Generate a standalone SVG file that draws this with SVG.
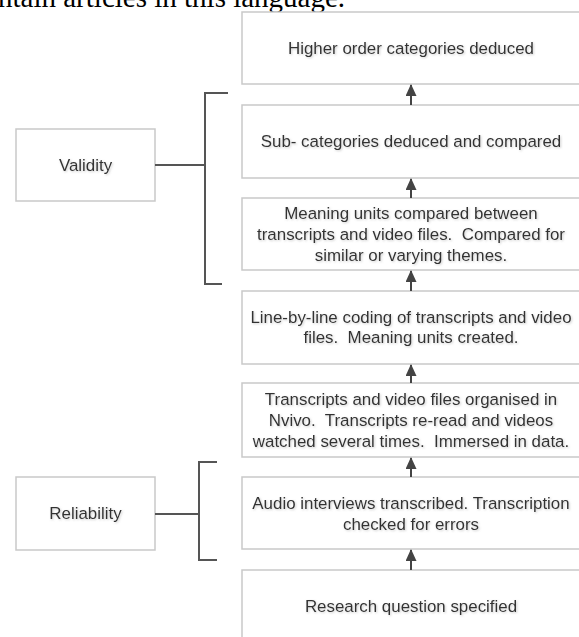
<svg xmlns="http://www.w3.org/2000/svg" width="579" height="637" viewBox="0 0 579 637">
<style>
.box{fill:#fff;stroke:#c9c9c9;stroke-width:1.5}
.t{font-family:"Liberation Sans",Arial,sans-serif;font-size:16.9px;fill:#333;text-anchor:middle;white-space:pre;filter:url(#sh)}
.br{fill:none;stroke:#555;stroke-width:2}
.ar{stroke:#444;stroke-width:2}
</style>
<defs>
<filter id="sh" x="-5%" y="-20%" width="110%" height="140%">
<feDropShadow dx="1" dy="1" stdDeviation="0.8" flood-color="#999" flood-opacity="0.5"/>
</filter>
<marker id="ah" markerWidth="12" markerHeight="11" refX="11" refY="5.5" orient="auto" markerUnits="userSpaceOnUse" viewBox="0 0 12 11">
<path d="M0 0 L12 5.5 L0 11 Z" fill="#444"/>
</marker>
</defs>
<text x="-2" y="7" font-family="'Liberation Serif','Times New Roman',serif" font-size="29" fill="#000">ntain articles in this language.</text>
<g id="n1"><rect class="box" x="242" y="12" width="345" height="72"/><text class="t" x="411" y="54">Higher order categories deduced</text></g>
<g id="n2"><rect class="box" x="242" y="105" width="345" height="73"/><text class="t" x="411" y="147">Sub- categories deduced and compared</text></g>
<g id="n3"><rect class="box" x="242" y="198" width="345" height="72"/><text class="t" x="411" y="219">Meaning units compared between</text><text class="t" x="411" y="240" xml:space="preserve">transcripts and video files.  Compared for</text><text class="t" x="411" y="261">similar or varying themes.</text></g>
<g id="n4"><rect class="box" x="242" y="291" width="345" height="73"/><text class="t" x="411" y="323">Line-by-line coding of transcripts and video</text><text class="t" x="411" y="343" xml:space="preserve">files.  Meaning units created.</text></g>
<g id="n5"><rect class="box" x="242" y="383" width="345" height="74"/><text class="t" x="411" y="405">Transcripts and video files organised in</text><text class="t" x="411" y="426" xml:space="preserve">Nvivo.  Transcripts re-read and videos</text><text class="t" x="411" y="447" xml:space="preserve">watched several times.  Immersed in data.</text></g>
<g id="n6"><rect class="box" x="242" y="477" width="345" height="72"/><text class="t" x="411" y="509">Audio interviews transcribed. Transcription</text><text class="t" x="411" y="530">checked for errors</text></g>
<g id="n7"><rect class="box" x="242" y="570" width="345" height="90"/><text class="t" x="411" y="612">Research question specified</text></g>
<g id="validity"><rect class="box" x="16" y="129" width="139" height="72"/><text class="t" x="85.5" y="171">Validity</text></g>
<g id="reliability"><rect class="box" x="16" y="477" width="139" height="73"/><text class="t" x="85.5" y="519">Reliability</text></g>
<g id="connectors">
<line class="ar" x1="411" y1="105" x2="411" y2="85" marker-end="url(#ah)"/>
<line class="ar" x1="411" y1="198" x2="411" y2="179" marker-end="url(#ah)"/>
<line class="ar" x1="411" y1="291" x2="411" y2="271" marker-end="url(#ah)"/>
<line class="ar" x1="411" y1="383" x2="411" y2="365" marker-end="url(#ah)"/>
<line class="ar" x1="411" y1="477" x2="411" y2="458" marker-end="url(#ah)"/>
<line class="ar" x1="411" y1="570" x2="411" y2="550" marker-end="url(#ah)"/>
<path class="br" d="M155 165 H205 M228 93 H205 V284 H222"/>
<path class="br" d="M155 514 H199 M217 462 H199 V560 H217"/>
</g>
</svg>
